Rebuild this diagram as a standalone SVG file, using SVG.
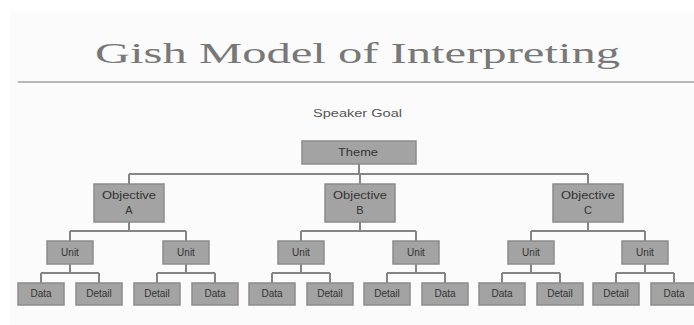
<svg xmlns="http://www.w3.org/2000/svg" width="694" height="325" viewBox="0 0 694 325">
<style>
.bx{fill:#a3a3a3;stroke:#8c8c8c;stroke-width:1.5}
.lb{font-family:"Liberation Sans",Arial,sans-serif;font-size:10px;fill:#333;text-anchor:middle}
.ob{font-family:"Liberation Sans",Arial,sans-serif;font-size:11px;fill:#333;text-anchor:middle}
.cn{fill:none;stroke:#858585;stroke-width:2}
</style>
<rect x="0" y="0" width="694" height="325" fill="#ffffff"/>
<rect x="10" y="12" width="684" height="313" fill="#fbfbfb"/>
<text x="95" y="63" font-family="'Liberation Serif','Times New Roman',serif" font-size="30" fill="#787878" textLength="525" lengthAdjust="spacingAndGlyphs">Gish Model of Interpreting</text>
<line x1="18" y1="82" x2="694" y2="82" stroke="#a0a0a0" stroke-width="1.5"/>
<text x="313" y="117" font-family="'Liberation Sans',Arial,sans-serif" font-size="10" fill="#555" textLength="89" lengthAdjust="spacingAndGlyphs">Speaker Goal</text>
<g id="connectors" class="cn">
<path d="M359 164V174M129 174H588M129 174V184M360 174V184M588 174V184"/>
<path d="M129 222V231M70 231H186M70 231V241M186 231V241"/>
<path d="M360 222V231M301 231H416M301 231V241M416 231V241"/>
<path d="M588 222V231M531 231H645M531 231V241M645 231V241"/>
<path d="M70 264V273M41 273H99M41 273V283M99 273V283"/>
<path d="M186 264V273M157 273H215M157 273V283M215 273V283"/>
<path d="M301 264V273M272 273H330M272 273V283M330 273V283"/>
<path d="M416 264V273M387 273H445M387 273V283M445 273V283"/>
<path d="M531 264V273M502 273H560M502 273V283M560 273V283"/>
<path d="M645 264V273M616 273H674M616 273V283M674 273V283"/>
</g>
<g id="theme"><rect class="bx" x="302" y="141" width="114" height="23"/><text class="ob" x="358" y="156" textLength="40" lengthAdjust="spacingAndGlyphs">Theme</text></g>
<g id="objA"><rect class="bx" x="94" y="184" width="70" height="38"/><text class="ob" x="129" y="199" textLength="54" lengthAdjust="spacingAndGlyphs">Objective</text><text class="ob" x="129" y="214">A</text></g>
<g id="objB"><rect class="bx" x="325" y="184" width="70" height="38"/><text class="ob" x="360" y="199" textLength="54" lengthAdjust="spacingAndGlyphs">Objective</text><text class="ob" x="360" y="214">B</text></g>
<g id="objC"><rect class="bx" x="553" y="184" width="70" height="38"/><text class="ob" x="588" y="199" textLength="54" lengthAdjust="spacingAndGlyphs">Objective</text><text class="ob" x="588" y="214">C</text></g>
<g id="unit1"><rect class="bx" x="47" y="241" width="46" height="23"/><text class="lb" x="70" y="256">Unit</text></g>
<g id="unit2"><rect class="bx" x="163" y="241" width="46" height="23"/><text class="lb" x="186" y="256">Unit</text></g>
<g id="unit3"><rect class="bx" x="278" y="241" width="46" height="23"/><text class="lb" x="301" y="256">Unit</text></g>
<g id="unit4"><rect class="bx" x="393" y="241" width="46" height="23"/><text class="lb" x="416" y="256">Unit</text></g>
<g id="unit5"><rect class="bx" x="508" y="241" width="46" height="23"/><text class="lb" x="531" y="256">Unit</text></g>
<g id="unit6"><rect class="bx" x="622" y="241" width="46" height="23"/><text class="lb" x="645" y="256">Unit</text></g>
<g id="leaf1"><rect class="bx" x="18" y="283" width="46" height="22"/><text class="lb" x="41" y="297">Data</text></g>
<g id="leaf2"><rect class="bx" x="76" y="283" width="46" height="22"/><text class="lb" x="99" y="297">Detail</text></g>
<g id="leaf3"><rect class="bx" x="134" y="283" width="46" height="22"/><text class="lb" x="157" y="297">Detail</text></g>
<g id="leaf4"><rect class="bx" x="192" y="283" width="46" height="22"/><text class="lb" x="215" y="297">Data</text></g>
<g id="leaf5"><rect class="bx" x="249" y="283" width="46" height="22"/><text class="lb" x="272" y="297">Data</text></g>
<g id="leaf6"><rect class="bx" x="307" y="283" width="46" height="22"/><text class="lb" x="330" y="297">Detail</text></g>
<g id="leaf7"><rect class="bx" x="364" y="283" width="46" height="22"/><text class="lb" x="387" y="297">Detail</text></g>
<g id="leaf8"><rect class="bx" x="422" y="283" width="46" height="22"/><text class="lb" x="445" y="297">Data</text></g>
<g id="leaf9"><rect class="bx" x="479" y="283" width="46" height="22"/><text class="lb" x="502" y="297">Data</text></g>
<g id="leaf10"><rect class="bx" x="537" y="283" width="46" height="22"/><text class="lb" x="560" y="297">Detail</text></g>
<g id="leaf11"><rect class="bx" x="593" y="283" width="46" height="22"/><text class="lb" x="616" y="297">Detail</text></g>
<g id="leaf12"><rect class="bx" x="651" y="283" width="46" height="22"/><text class="lb" x="674" y="297">Data</text></g>
</svg>
